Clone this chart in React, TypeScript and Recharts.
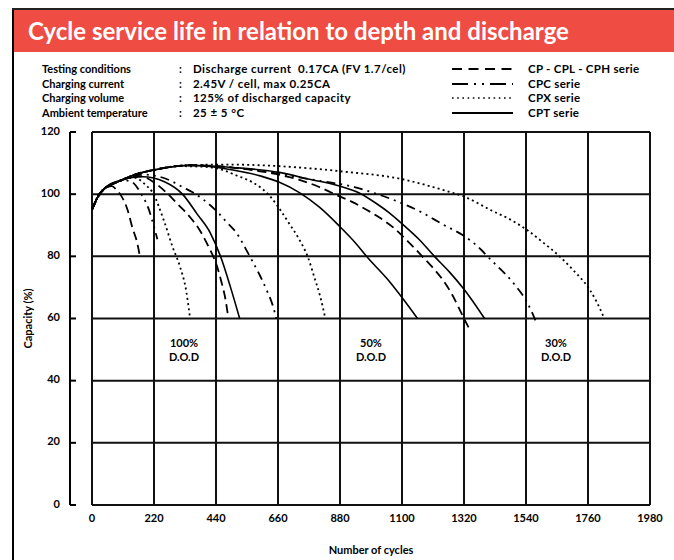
import React from "react";
import { LineChart, Line, XAxis, YAxis, CartesianGrid } from "recharts";

// ---- data (cycles, capacity %) ----
const xTicks = [0, 220, 440, 660, 880, 1100, 1320, 1540, 1760, 1980];
const yTicks = [0, 20, 40, 60, 80, 100, 120];

// 100% D.O.D group
const cp100 = [
  { c: 0, v: 95 }, { c: 25, v: 99.5 }, { c: 50, v: 102 }, { c: 70, v: 102.6 },
  { c: 88, v: 101.3 }, { c: 105, v: 99.3 }, { c: 126, v: 95 }, { c: 144, v: 89 },
  { c: 160, v: 84.5 }, { c: 170, v: 80 },
];
const cpc100 = [
  { c: 0, v: 95 }, { c: 30, v: 100.5 }, { c: 70, v: 103.3 }, { c: 110, v: 104.5 },
  { c: 140, v: 104 }, { c: 175, v: 100 }, { c: 200, v: 95.5 }, { c: 220, v: 89.5 },
  { c: 232, v: 85.5 },
];
const cpx100 = [
  { c: 0, v: 95 }, { c: 30, v: 100.5 }, { c: 100, v: 104.3 }, { c: 150, v: 105.3 },
  { c: 190, v: 103 }, { c: 215, v: 100.5 }, { c: 257, v: 91 }, { c: 286, v: 83 },
  { c: 311, v: 77 }, { c: 335, v: 68.5 }, { c: 348, v: 60 },
];
const cpt100 = [
  { c: 0, v: 95 }, { c: 30, v: 100.5 }, { c: 100, v: 104.5 }, { c: 180, v: 105.6 },
  { c: 257, v: 104 }, { c: 321, v: 100 }, { c: 374, v: 93.5 }, { c: 420, v: 87.5 },
  { c: 456, v: 80 }, { c: 490, v: 70.5 }, { c: 524, v: 60 },
];

// 50% D.O.D group
const cp50 = [
  { c: 0, v: 95 }, { c: 30, v: 100.5 }, { c: 100, v: 104.3 }, { c: 170, v: 105.8 },
  { c: 220, v: 103.8 }, { c: 264, v: 100.5 }, { c: 307, v: 96.5 }, { c: 349, v: 92.5 },
  { c: 385, v: 88 }, { c: 414, v: 83 }, { c: 441, v: 77.5 }, { c: 460, v: 71.5 },
  { c: 474, v: 66 }, { c: 484, v: 60 },
];
const cpc50 = [
  { c: 0, v: 95 }, { c: 30, v: 100.5 }, { c: 100, v: 104.3 }, { c: 180, v: 106.3 },
  { c: 240, v: 105.6 }, { c: 282, v: 104.2 }, { c: 321, v: 102.3 }, { c: 357, v: 100.6 },
  { c: 393, v: 98.4 }, { c: 446, v: 94.2 }, { c: 478, v: 91 }, { c: 513, v: 87.5 },
  { c: 545, v: 82.5 }, { c: 570, v: 78.3 }, { c: 595, v: 74 }, { c: 619, v: 69.3 },
  { c: 641, v: 64.3 }, { c: 654, v: 60 },
];
const cpx50 = [
  { c: 0, v: 95 }, { c: 30, v: 100.5 }, { c: 100, v: 104.3 }, { c: 160, v: 106.5 },
  { c: 220, v: 107.8 }, { c: 310, v: 109 }, { c: 400, v: 108.8 }, { c: 470, v: 107.6 },
  { c: 513, v: 106 }, { c: 570, v: 103.8 }, { c: 630, v: 99.5 }, { c: 660, v: 96 },
  { c: 700, v: 90.5 }, { c: 735, v: 85.5 }, { c: 765, v: 80 }, { c: 790, v: 73 },
  { c: 810, v: 67 }, { c: 828, v: 60 },
];
const cpt50 = [
  { c: 0, v: 95 }, { c: 30, v: 100.5 }, { c: 100, v: 104.3 }, { c: 160, v: 106.5 },
  { c: 220, v: 107.8 }, { c: 350, v: 109.2 }, { c: 500, v: 107.8 }, { c: 600, v: 105.8 },
  { c: 665, v: 103.8 }, { c: 736, v: 100.5 }, { c: 807, v: 95.8 }, { c: 878, v: 89.7 },
  { c: 938, v: 84 }, { c: 977, v: 79.7 }, { c: 1045, v: 73 }, { c: 1102, v: 66.5 },
  { c: 1155, v: 60 },
];

// 30% D.O.D group
const cp30 = [
  { c: 0, v: 95 }, { c: 30, v: 100.5 }, { c: 100, v: 104.3 }, { c: 160, v: 106.5 },
  { c: 220, v: 107.8 }, { c: 350, v: 109.3 }, { c: 500, v: 108.5 }, { c: 650, v: 106.5 },
  { c: 736, v: 104.6 }, { c: 804, v: 102.4 }, { c: 861, v: 100 }, { c: 921, v: 97.6 },
  { c: 974, v: 95 }, { c: 1023, v: 92.3 }, { c: 1073, v: 89 }, { c: 1119, v: 85 },
  { c: 1172, v: 80 }, { c: 1201, v: 77.2 }, { c: 1240, v: 73 }, { c: 1276, v: 68 },
  { c: 1320, v: 60 }, { c: 1340, v: 56.5 },
];
const cpc30 = [
  { c: 0, v: 95 }, { c: 30, v: 100.5 }, { c: 100, v: 104.3 }, { c: 160, v: 106.5 },
  { c: 220, v: 107.8 }, { c: 350, v: 109.3 }, { c: 500, v: 108.6 }, { c: 650, v: 106.8 },
  { c: 736, v: 105.4 }, { c: 814, v: 104.2 }, { c: 931, v: 102.3 }, { c: 1013, v: 100 },
  { c: 1091, v: 97.4 }, { c: 1173, v: 94 }, { c: 1244, v: 90.3 }, { c: 1321, v: 86.5 },
  { c: 1380, v: 82.2 }, { c: 1403, v: 80 }, { c: 1439, v: 76.8 }, { c: 1470, v: 74 },
  { c: 1499, v: 71 }, { c: 1545, v: 65 }, { c: 1580, v: 58 },
];
const cpx30 = [
  { c: 0, v: 95 }, { c: 30, v: 100.5 }, { c: 100, v: 104.3 }, { c: 160, v: 106.5 },
  { c: 220, v: 107.8 }, { c: 350, v: 109.4 }, { c: 500, v: 109.5 }, { c: 665, v: 109 },
  { c: 878, v: 107.4 }, { c: 1102, v: 104.8 }, { c: 1258, v: 101 }, { c: 1321, v: 99.2 },
  { c: 1421, v: 94.6 }, { c: 1481, v: 92 }, { c: 1545, v: 88.4 }, { c: 1600, v: 84.5 },
  { c: 1659, v: 80 }, { c: 1705, v: 75.8 }, { c: 1765, v: 69.4 }, { c: 1790, v: 65.5 },
  { c: 1818, v: 60 },
];
const cpt30 = [
  { c: 0, v: 95 }, { c: 30, v: 100.5 }, { c: 100, v: 104.3 }, { c: 160, v: 106.5 },
  { c: 220, v: 107.8 }, { c: 350, v: 109.3 }, { c: 500, v: 108.6 }, { c: 665, v: 107 },
  { c: 772, v: 104.8 }, { c: 878, v: 102.6 }, { c: 950, v: 100.3 }, { c: 1009, v: 97 },
  { c: 1055, v: 94 }, { c: 1100, v: 90.5 }, { c: 1160, v: 85.5 }, { c: 1215, v: 80 },
  { c: 1268, v: 75 }, { c: 1320, v: 69.4 }, { c: 1393, v: 60 },
];

const conditionLabels = ["Testing conditions", "Charging current", "Charging volume", "Ambient temperature"];
const conditionValues = [
  "Discharge current\u00a0 0.17CA (FV 1.7/cel)",
  "2.45V / cell, max 0.25CA",
  "125% of discharged capacity",
  "25 ± 5 °C",
];
const seriesNames = ["CP - CPL - CPH serie", "CPC serie", "CPX serie", "CPT serie"];
const dodLabels = ["100%", "50%", "30%"];

// ---- styles ----
const FONT = "Lato, 'Open Sans', sans-serif";
const DASH = "9 5";
const DASHDOT = "9 5 2 5 2 5";
const DOT = "2 3.2";
const legendDash = ["10 6.5", "16 6 2 6 2 6", "1.6 3.6", undefined];
const seriesStyles = [
  { dash: DASH, w: 1.8 },
  { dash: DASHDOT, w: 1.8 },
  { dash: DOT, w: 1.8 },
  { dash: undefined, w: 1.6 },
];

const allSeries = [
  { key: "cp100", data: cp100, s: 0 },
  { key: "cpc100", data: cpc100, s: 1 },
  { key: "cpx100", data: cpx100, s: 2 },
  { key: "cpt100", data: cpt100, s: 3 },
  { key: "cp50", data: cp50, s: 0 },
  { key: "cpc50", data: cpc50, s: 1 },
  { key: "cpx50", data: cpx50, s: 2 },
  { key: "cpt50", data: cpt50, s: 3 },
  { key: "cp30", data: cp30, s: 0 },
  { key: "cpc30", data: cpc30, s: 1 },
  { key: "cpx30", data: cpx30, s: 2 },
  { key: "cpt30", data: cpt30, s: 3 },
];

const YTick = (props: any) => {
  const { x, y, payload } = props;
  return (
    <g>
      <line x1={x} x2={x + 6} y1={y} y2={y} stroke="#000" strokeWidth={2} />
      <text
        x={x - 10}
        y={y}
        dy={-2}
        textAnchor="end"
        dominantBaseline="central"
        fontFamily={FONT}
        fontWeight={700}
        fontSize={11}
        fill="#000"
      >
        {payload.value}
      </text>
    </g>
  );
};

const textStyle: React.CSSProperties = {
  position: "absolute",
  fontFamily: FONT,
  fontWeight: 700,
  fontSize: 11,
  lineHeight: "14px",
  color: "#000",
  whiteSpace: "nowrap",
};
const wideText: React.CSSProperties = { ...textStyle, fontSize: 11.5, letterSpacing: 0.45 };

export default function App() {
  const rowY = [62, 77, 91, 106];
  const dodX = [184, 371, 556];
  return (
    <div
      style={{
        position: "absolute",
        left: 0,
        top: 0,
        width: 674,
        height: 560,
        background: "#fff",
        overflow: "hidden",
      }}
    >
      <LineChart
        width={674}
        height={560}
        margin={{ top: 132, right: 24, bottom: 0, left: 22 }}
        style={{ position: "absolute", left: 0, top: 0 }}
      >
        <CartesianGrid yAxisId="b" stroke="#111" strokeWidth={2} />
        <XAxis
          type="number"
          dataKey="c"
          domain={[0, 1980]}
          ticks={xTicks}
          interval={0}
          height={55}
          axisLine={false}
          tickLine={false}
          tickMargin={3}
          tick={{ fontFamily: FONT, fontWeight: 700, fontSize: 11, fill: "#000" }}
          label={{
            value: "Number of cycles",
            position: "insideBottom",
            offset: 6,
            style: { fontFamily: FONT, fontWeight: 700, fontSize: 11, fill: "#000" },
          }}
        />
        {/* spacer between the y axis and the plot frame */}
        <YAxis
          type="number"
          domain={[0, 120]}
          ticks={yTicks}
          width={22}
          axisLine={false}
          tickLine={false}
          tick={false}
        />
        <YAxis
          yAxisId="b"
          type="number"
          domain={[0, 120]}
          ticks={yTicks}
          interval={0}
          width={48}
          axisLine={{ stroke: "#000", strokeWidth: 2 }}
          tickLine={false}
          tickSize={0}
          tickMargin={0}
          tick={<YTick />}
          label={{
            value: "Capacity (%)",
            angle: -90,
            position: "insideLeft",
            offset: 6,
            style: { fontFamily: FONT, fontWeight: 700, fontSize: 11, fill: "#000", textAnchor: "middle" },
          }}
        />
        {allSeries.map((sr) => (
          <Line
            key={sr.key}
            yAxisId="b"
            data={sr.data}
            dataKey="v"
            type="monotone"
            stroke="#000"
            strokeWidth={seriesStyles[sr.s].w}
            strokeDasharray={seriesStyles[sr.s].dash}
            dot={false}
            activeDot={false}
            isAnimationActive={false}
          />
        ))}
      </LineChart>

      {/* frame */}
      <div style={{ position: "absolute", left: 12, top: 8, width: 2, height: 552, background: "#000" }} />
      <div style={{ position: "absolute", left: 12, top: 8, width: 662, height: 2, background: "#222" }} />
      {/* header */}
      <div
        style={{
          position: "absolute",
          left: 14,
          top: 10,
          width: 660,
          height: 42,
          background: "#EF4C43",
        }}
      />
      <div
        style={{
          position: "absolute",
          left: 28,
          top: 17,
          fontFamily: FONT,
          fontWeight: 700,
          fontSize: 24,
          lineHeight: "28px",
          color: "#fff",
          whiteSpace: "nowrap",
        }}
      >
        Cycle service life in relation to depth and discharge
      </div>

      {/* test conditions */}
      {conditionLabels.map((t, i) => (
        <React.Fragment key={t}>
          <div style={{ ...textStyle, left: 42, top: rowY[i] }}>{t}</div>
          <div style={{ ...textStyle, left: 179, top: rowY[i] }}>:</div>
          <div style={{ ...wideText, left: 193, top: rowY[i] }}>{conditionValues[i]}</div>
        </React.Fragment>
      ))}

      {/* legend */}
      {seriesNames.map((t, i) => (
        <React.Fragment key={t}>
          <svg
            width={62}
            height={6}
            style={{ position: "absolute", left: 452, top: rowY[i] + 4 }}
          >
            <line
              x1={0}
              x2={61}
              y1={3}
              y2={3}
              stroke="#000"
              strokeWidth={i === 2 ? 1.6 : 2}
              strokeDasharray={legendDash[i]}
            />
          </svg>
          <div style={{ ...textStyle, fontSize: 11.5, letterSpacing: 0.3, left: 528, top: rowY[i] }}>{t}</div>
        </React.Fragment>
      ))}

      {/* D.O.D labels */}
      {dodLabels.map((t, i) => (
        <div
          key={t}
          style={{
            ...textStyle,
            left: dodX[i] - 30,
            width: 60,
            top: 336,
            textAlign: "center",
          }}
        >
          {t}
          <br />
          D.O.D
        </div>
      ))}
    </div>
  );
}
